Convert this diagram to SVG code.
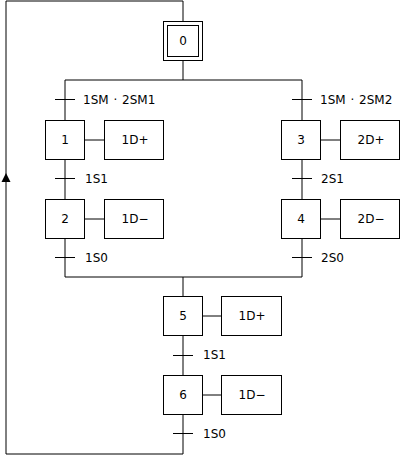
<svg xmlns="http://www.w3.org/2000/svg" width="401" height="455" viewBox="0 0 401 455">
<defs>
<style>
.box{fill:#fff;stroke:#000;stroke-width:1}
.ln{fill:none;stroke:#000;stroke-width:1}
.tk{fill:none;stroke:#000;stroke-width:1}
text{font-family:"DejaVu Sans",Verdana,sans-serif;font-size:12px;fill:#000}
.c{text-anchor:middle;dominant-baseline:central}
.l{dominant-baseline:central}
.w{word-spacing:1px}
</style>
</defs>
<rect width="401" height="455" fill="#fff"/>
<g id="connectors">
<path class="ln" d="M183,21.5 V1 H6 V454 H183 V414.5"/>
<path class="ln" d="M183,60.5 V80 M65,80 H302 M65,80 V120.5 M302,80 V120.5"/>
<path class="ln" d="M65,159.5 V199.5 M65,238.5 V277 M302,159.5 V199.5 M302,238.5 V277 M65,277 H302 M183,277 V296.5"/>
<path class="ln" d="M183,335.5 V375.5"/>
<path class="ln" d="M84.5,140 H104.5 M84.5,219 H104.5 M320.5,140 H340.5 M320.5,219 H340.5 M202.5,316 H221.5 M202.5,395 H221.5"/>
<path class="tk" d="M55,99.5 H75 M292,99.5 H312 M55,178.5 H75 M292,178.5 H312 M55,257.5 H75 M292,257.5 H312 M173,355.5 H193 M173,433.5 H193"/>
<polygon points="6,173 1.5,182 10.5,182" fill="#000"/>
</g>
<g id="t0"><text class="l w" x="83" y="100">1SM · 2SM1</text></g>
<g id="t1"><text class="l w" x="320" y="100">1SM · 2SM2</text></g>
<g id="t2"><text class="l" x="85" y="179">1S1</text></g>
<g id="t3"><text class="l" x="321" y="179">2S1</text></g>
<g id="t4"><text class="l" x="85" y="258">1S0</text></g>
<g id="t5"><text class="l" x="321" y="258">2S0</text></g>
<g id="t6"><text class="l" x="203" y="355">1S1</text></g>
<g id="t7"><text class="l" x="203" y="434">1S0</text></g>
<g id="step0"><rect class="box" x="163.5" y="21.5" width="39" height="39"/><rect class="box" x="167.5" y="25.5" width="31" height="31"/><text class="c" x="183" y="41">0</text></g>
<g id="step1"><rect class="box" x="45.5" y="120.5" width="39" height="39"/><text class="c" x="65" y="140">1</text></g>
<g id="act1"><rect class="box" x="104.5" y="120.5" width="59" height="39"/><text class="c" x="135" y="140">1D+</text></g>
<g id="step2"><rect class="box" x="45.5" y="199.5" width="39" height="39"/><text class="c" x="65" y="219">2</text></g>
<g id="act2"><rect class="box" x="104.5" y="199.5" width="59" height="39"/><text class="c" x="135" y="219">1D−</text></g>
<g id="step3"><rect class="box" x="281.5" y="120.5" width="39" height="39"/><text class="c" x="301" y="140">3</text></g>
<g id="act3"><rect class="box" x="340.5" y="120.5" width="59" height="39"/><text class="c" x="371" y="140">2D+</text></g>
<g id="step4"><rect class="box" x="281.5" y="199.5" width="39" height="39"/><text class="c" x="301" y="219">4</text></g>
<g id="act4"><rect class="box" x="340.5" y="199.5" width="59" height="39"/><text class="c" x="371" y="219">2D−</text></g>
<g id="step5"><rect class="box" x="163.5" y="296.5" width="39" height="39"/><text class="c" x="183" y="316">5</text></g>
<g id="act5"><rect class="box" x="221.5" y="296.5" width="60" height="39"/><text class="c" x="252" y="316">1D+</text></g>
<g id="step6"><rect class="box" x="163.5" y="375.5" width="39" height="39"/><text class="c" x="183" y="395">6</text></g>
<g id="act6"><rect class="box" x="221.5" y="375.5" width="60" height="39"/><text class="c" x="252" y="395">1D−</text></g>
</svg>
